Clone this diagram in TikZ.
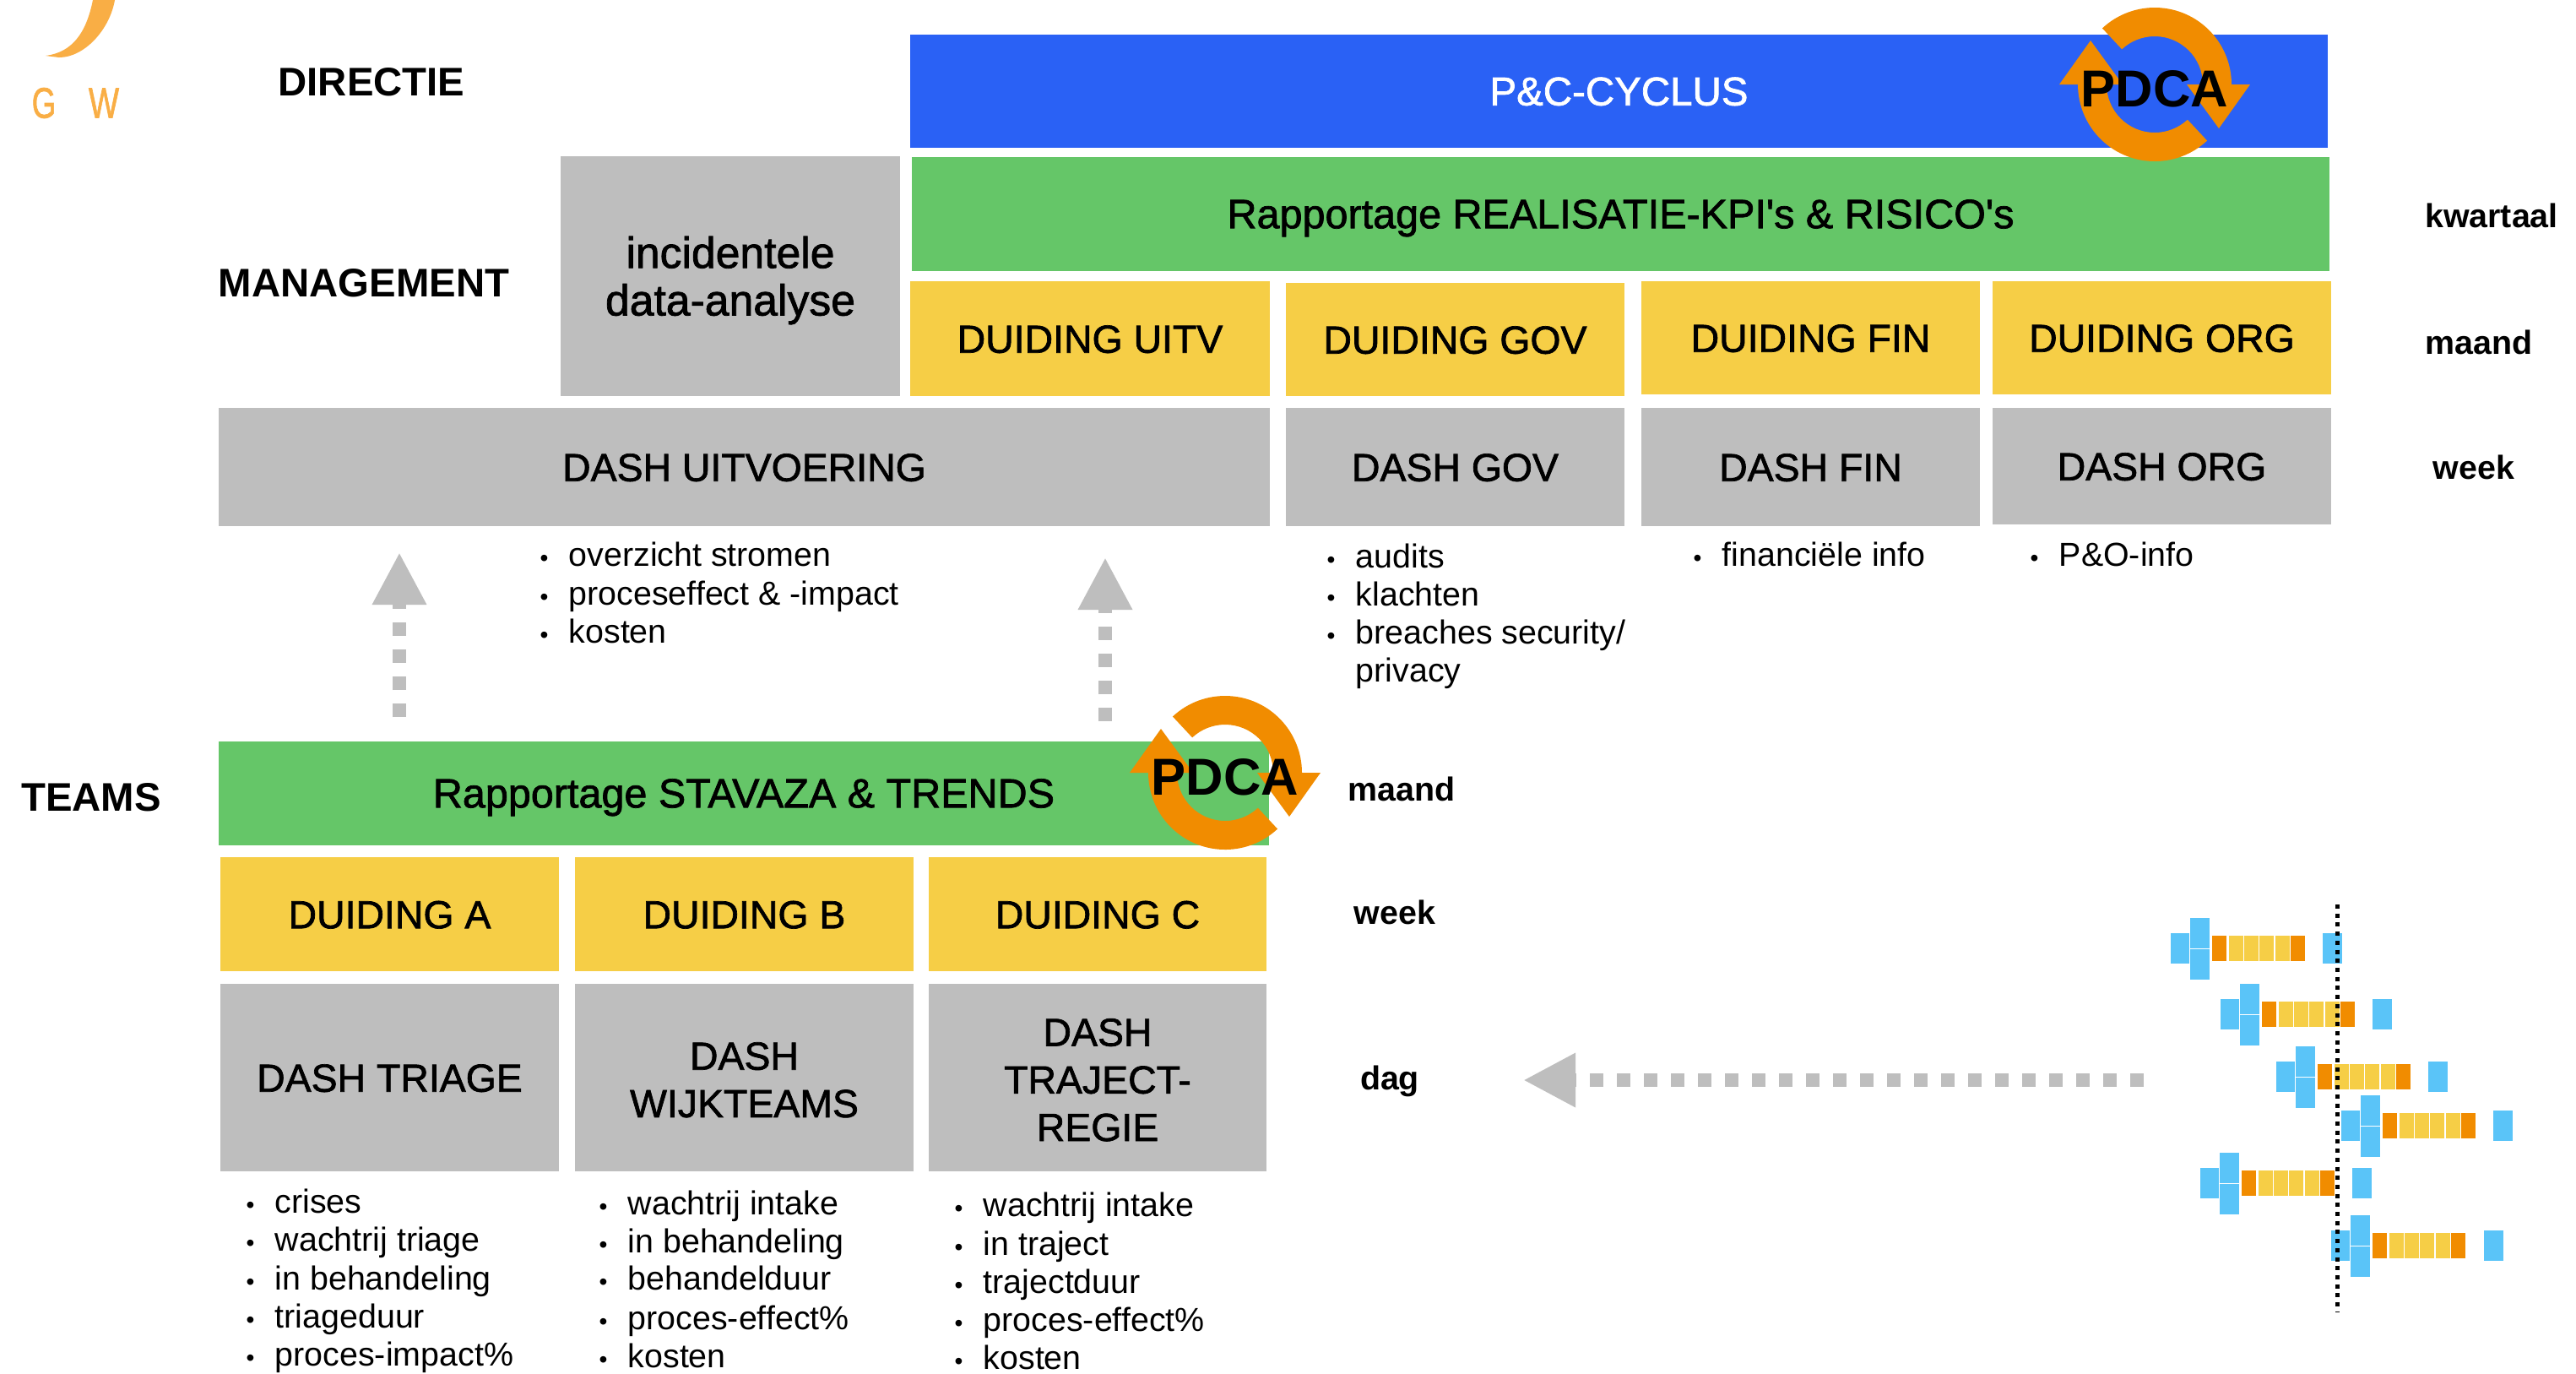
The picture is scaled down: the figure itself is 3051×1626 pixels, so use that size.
\documentclass[tikz,border=0pt]{standalone}
\usepackage{fontspec}
\setmainfont{Liberation Sans}
\newfontfamily\med[FakeBold=1.5]{Liberation Sans}
\usetikzlibrary{arrows.meta}
\definecolor{bluebar}{HTML}{2A61F5}
\definecolor{greenbar}{HTML}{65C668}
\definecolor{yellowbar}{HTML}{F6CE46}
\definecolor{greybar}{HTML}{BEBEBE}
\definecolor{orangec}{HTML}{F18C00}
\definecolor{skyc}{HTML}{5AC4F8}
\definecolor{logoc}{HTML}{F9AE45}
\newcount\licount
\tikzset{x=0.01cm,y=-0.01cm,
 bar/.style={anchor=center,inner sep=0,align=center,font=\med\fontsize{13.2}{16}\selectfont,text=black},
 one/.style={text height=9.5pt,text depth=0pt},
 wide/.style={font=\med\fontsize{13.8}{16}\selectfont},
 pcfont/.style={font=\med\fontsize{13.5}{16}\selectfont},
 lower/.style={font=\med\fontsize{14.7}{16}\selectfont},
 lab/.style={anchor=center,inner sep=0,font=\bfseries\fontsize{13.45}{16}\selectfont},
 rowl/.style={anchor=center,inner sep=0,font=\bfseries\fontsize{11.2}{13}\selectfont,text height=8pt,text depth=0pt},
 itemtxt/.style={anchor=base west,inner sep=0,font=\fontsize{11.2}{13}\selectfont},
 flowdash/.style={draw=greybar,line width=0.16cm,dash pattern=on 0.16cm off 0.16cm,
   -{Triangle[length=0.62cm,width=0.6cm,fill=greybar]}},
 pdcatxt/.style={anchor=center,inner sep=0,font=\bfseries\fontsize{17.5}{20}\selectfont,text height=12.6pt,text depth=0pt},
 logotxt/.style={inner sep=0,text=logoc,font=\med\fontsize{14.5}{16}\selectfont},
}
\newcommand{\barbox}[7]{\node[bar,#6,minimum width={(#4-#2)*0.01cm},minimum height={(#5-#3)*0.01cm}] (#1) at ({(#2+#4)/2},{(#3+#5)/2}) {#7};}
\newcommand{\bul}{{\fontsize{8}{8}\selectfont\textbullet}}
\newcommand{\li}[4][\bul]{\global\advance\licount by 1
 \node[itemtxt,name=li\the\licount] at (#2-3,#3+14) {\makebox[0.34cm][l]{#1}#4};}
\newcommand{\pdca}[3]{%
 \begin{scope}[shift={(#2,#3)},y=0.01cm]
 \fill[orangec] (133:91) arc[start angle=133,end angle=0,radius=91] -- (113,0) -- (76,-52) -- (38,0) -- (57,0) arc[start angle=0,end angle=133,radius=57] -- cycle;
 \fill[orangec,rotate=180] (133:91) arc[start angle=133,end angle=0,radius=91] -- (113,0) -- (76,-52) -- (38,0) -- (57,0) arc[start angle=0,end angle=133,radius=57] -- cycle;
 \end{scope}
 \node[pdcatxt] (#1) at (#2,#3+4) {PDCA};}
\newcommand{\gantt}[3]{%
 \begin{scope}[shift={(2550+#1/3,1050+#2/2.958)},xscale=1/3,yscale=1/2.958]
 \fill[skyc] (0,-53) rectangle (67,53);
 \fill[skyc] (69,-107) rectangle (139,0);
 \fill[skyc] (69,3) rectangle (139,109);
 \fill[orangec] (147,-44) rectangle (199,44);
 \fill[yellowbar] (208,-44) rectangle (259,44);
 \fill[yellowbar] (262,-44) rectangle (313,44);
 \fill[yellowbar] (316,-44) rectangle (367,44);
 \fill[yellowbar] (373,-44) rectangle (424,44);
 \fill[orangec] (427,-44) rectangle (478,44);
 \fill[skyc] (#3,-53) rectangle (#3+70,53);
 \end{scope}}
\begin{document}
\begin{tikzpicture}
\useasboundingbox (0,0) rectangle (3051,1626);
\fill[white] (0,0) rectangle (3051,1626);
% logo fragment
\fill[logoc] (136,0) .. controls (130,35) and (100,68) .. (70,68) -- (54,66) .. controls (85,62) and (102,40) .. (110,0) -- cycle;
\node[logotxt] (logog) at (52,122) {\scalebox{.72}[1]{G}};
\node[logotxt] (logow) at (123,122) {\scalebox{.75}[1]{W}};
% bars
\barbox{pc}{1078}{41}{2757}{175}{fill=bluebar,one,text=white,pcfont}{P\&C-CYCLUS}
\barbox{rap}{1080}{186}{2759}{321}{fill=greenbar,one,wide}{Rapportage REALISATIE-KPI's \& RISICO's}
\barbox{inc}{664}{185}{1066}{469}{fill=greybar,lower}{\rule{0pt}{13.5pt}incidentele\\data-analyse}
\barbox{du}{1078}{333}{1504}{469}{fill=yellowbar,one}{DUIDING UITV}
\barbox{dg}{1523}{335}{1924}{469}{fill=yellowbar,one}{DUIDING GOV}
\barbox{df}{1944}{333}{2345}{467}{fill=yellowbar,one}{DUIDING FIN}
\barbox{do}{2360}{333}{2761}{467}{fill=yellowbar,one}{DUIDING ORG}
\barbox{dashu}{259}{483}{1504}{623}{fill=greybar,one}{DASH UITVOERING}
\barbox{dashg}{1523}{483}{1924}{623}{fill=greybar,one}{DASH GOV}
\barbox{dashf}{1944}{483}{2345}{623}{fill=greybar,one}{DASH FIN}
\barbox{dasho}{2360}{483}{2761}{621}{fill=greybar,one}{DASH ORG}
\barbox{st}{259}{878}{1503}{1001}{fill=greenbar,one,wide}{Rapportage STAVAZA \& TRENDS}
\barbox{da}{261}{1015}{662}{1150}{fill=yellowbar,one}{DUIDING A}
\barbox{db}{681}{1015}{1082}{1150}{fill=yellowbar,one}{DUIDING B}
\barbox{dc}{1100}{1015}{1500}{1150}{fill=yellowbar,one}{DUIDING C}
\barbox{ta}{261}{1165}{662}{1387}{fill=greybar,one}{DASH TRIAGE}
\barbox{tb}{681}{1165}{1082}{1387}{fill=greybar}{\rule{0pt}{10.8pt}DASH\\WIJKTEAMS}
\barbox{tc}{1100}{1165}{1500}{1387}{fill=greybar}{\rule{0pt}{10.8pt}DASH\\TRAJECT-\\REGIE}
% labels
\node[lab] (dir) at (440,97) {DIRECTIE};
\node[lab] (man) at (431,335) {MANAGEMENT};
\node[lab] (tea) at (108,944) {TEAMS};
\node[rowl] (r1) at (2951,255) {kwartaal};
\node[rowl] (r2) at (2936,405) {maand};
\node[rowl] (r3) at (2930,553) {week};
\node[rowl] (r4) at (1660,934) {maand};
\node[rowl] (r5) at (1652,1080) {week};
\node[rowl] (r6) at (1646,1276) {dag};
% lists
\li{642}{656}{overzicht stromen}
\li{642}{702}{proceseffect \& -impact}
\li{642}{747}{kosten}
\li{1574}{658}{audits}
\li{1574}{703}{klachten}
\li{1574}{748}{breaches security/}
\li[]{1574}{793}{privacy}
\li{2008}{656}{financiële info}
\li{2407}{656}{P\&O-info}
\li{294}{1422}{crises}
\li{294}{1467}{wachtrij triage}
\li{294}{1513}{in behandeling}
\li{294}{1558}{triageduur}
\li{294}{1603}{proces-impact\%}
\li{712}{1424}{wachtrij intake}
\li{712}{1469}{in behandeling}
\li{712}{1513}{behandelduur}
\li{712}{1560}{proces-effect\%}
\li{712}{1605}{kosten}
\li{1133}{1426}{wachtrij intake}
\li{1133}{1472}{in traject}
\li{1133}{1517}{trajectduur}
\li{1133}{1562}{proces-effect\%}
\li{1133}{1607}{kosten}
% dashed arrows
\coordinate (a1s) at (473,849); \coordinate (a1e) at (473,654);
\coordinate (a2s) at (1309,854); \coordinate (a2e) at (1309,660);
\coordinate (a3s) at (2539,1279); \coordinate (a3e) at (1804,1279);
\draw[flowdash] (a1s) -- (a1e);
\draw[flowdash] (a2s) -- (a2e);
\draw[flowdash] (a3s) -- (a3e);
% PDCA
\pdca{pdcaa}{2552}{100}
\pdca{pdcab}{1451}{915}
% gantt
\gantt{62}{216}{540}
\gantt{239}{446}{540}
\gantt{437}{665}{540}
\gantt{668}{837}{541}
\gantt{167}{1038}{540}
\gantt{632}{1257}{543}
\coordinate (tls) at (2768,1071); \coordinate (tle) at (2768,1553);
\draw[black,line width=0.05cm,dash pattern=on 0.05cm off 0.057cm] (tls) -- (tle);
\end{tikzpicture}
\end{document}
